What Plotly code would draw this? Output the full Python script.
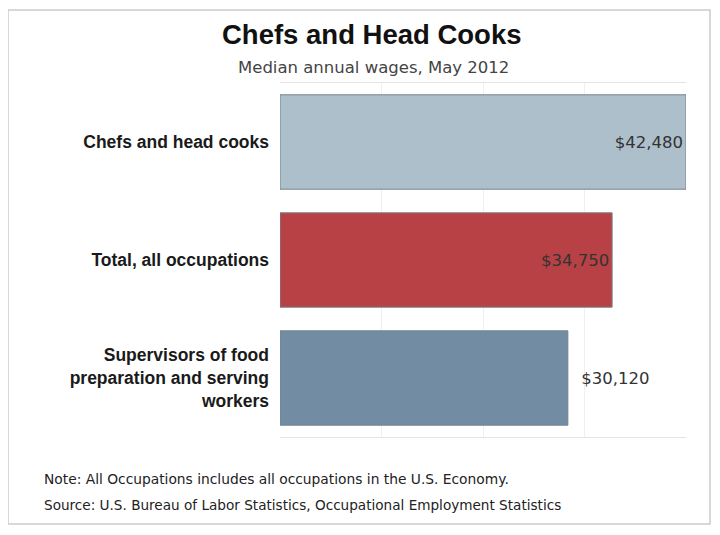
import plotly.graph_objects as go

categories = ["Chefs and head cooks", "Total, all occupations",
              "Supervisors of food<br>preparation and serving<br>workers"]
wages = [42480, 34750, 30120]
wage_labels = ["$42,480", "$34,750", "$30,120"]
bar_colors = ["#adbfcb", "#b84145", "#728ca3"]
text_positions = ["inside", "inside", "outside"]
text_templates = ["%{text}", "%{text}", "  %{text}"]

W, H = 720, 535
OFF = 8  # page body offset of the figure in the screenshot
# target plot area in screen pixels
SX0, SX1, SY0, SY1 = 280, 686, 83, 437
L, T = SX0 - OFF, SY0 - OFF
R, B = W - (SX1 - OFF), H - (SY1 - OFF)
PW, PH = W - L - R, H - T - B


def px_x(x):
    return (x - OFF - L) / PW


def px_y(y):
    return (H - B - (y - OFF)) / PH


VAL_FONT = dict(family="DejaVu Sans", size=16.5, color="#333333")

fig = go.Figure(go.Bar(
    y=categories,
    x=wages,
    orientation="h",
    marker=dict(color=bar_colors, line=dict(color="#76838d", width=1)),
    width=0.8,
    text=wage_labels,
    texttemplate=text_templates,
    textposition=text_positions,
    insidetextanchor="end",
    textfont=VAL_FONT,
    insidetextfont=VAL_FONT,
    outsidetextfont=VAL_FONT,
    cliponaxis=False,
    hoverinfo="skip",
))

fig.update_layout(
    width=W, height=H,
    margin=dict(l=L, r=R, t=T, b=B),
    paper_bgcolor="white",
    plot_bgcolor="white",
    showlegend=False,
    font=dict(family="Liberation Sans, Arial", color="#222222"),
    xaxis=dict(
        range=[0, 42480],
        tickvals=[10620, 21240, 31860, 42480],
        showticklabels=False,
        showgrid=True, gridcolor="#efefef", gridwidth=1,
        zeroline=False,
        showline=True, mirror=True, linecolor="#e4e4e4", linewidth=1,
        fixedrange=True,
    ),
    yaxis=dict(
        autorange="reversed",
        tickfont=dict(family="Liberation Sans, Arial", size=17.5, color="#1a1a1a", weight="bold"),
        ticks="",
        ticklabelstandoff=10,
        showline=False,
        showgrid=False,
        fixedrange=True,
    ),
    annotations=[
        dict(text="<b>Chefs and Head Cooks</b>", x=px_x(372), y=px_y(35),
             xref="paper", yref="paper", showarrow=False, xanchor="center", yanchor="middle",
             font=dict(family="Liberation Sans, Arial", size=27.5, color="#111111")),
        dict(text="Median annual wages, May 2012", x=px_x(373), y=px_y(68),
             xref="paper", yref="paper", showarrow=False, xanchor="center", yanchor="middle",
             font=dict(family="DejaVu Sans", size=16.5, color="#444444")),
        dict(text="Note: All Occupations includes all occupations in the U.S. Economy.",
             x=px_x(42), y=px_y(479), xref="paper", yref="paper", showarrow=False,
             xanchor="left", yanchor="middle",
             font=dict(family="DejaVu Sans", size=13.8, color="#222222")),
        dict(text="Source: U.S. Bureau of Labor Statistics, Occupational Employment Statistics",
             x=px_x(42), y=px_y(505), xref="paper", yref="paper", showarrow=False,
             xanchor="left", yanchor="middle",
             font=dict(family="DejaVu Sans", size=13.6, color="#222222")),
    ],
    shapes=[
        dict(type="rect", xref="paper", yref="paper",
             x0=px_x(8), x1=px_x(710), y0=px_y(10), y1=px_y(524),
             line=dict(color="#cccccc", width=1.5), fillcolor="rgba(0,0,0,0)", layer="below"),
    ],
)

fig.write_html("out.html")
